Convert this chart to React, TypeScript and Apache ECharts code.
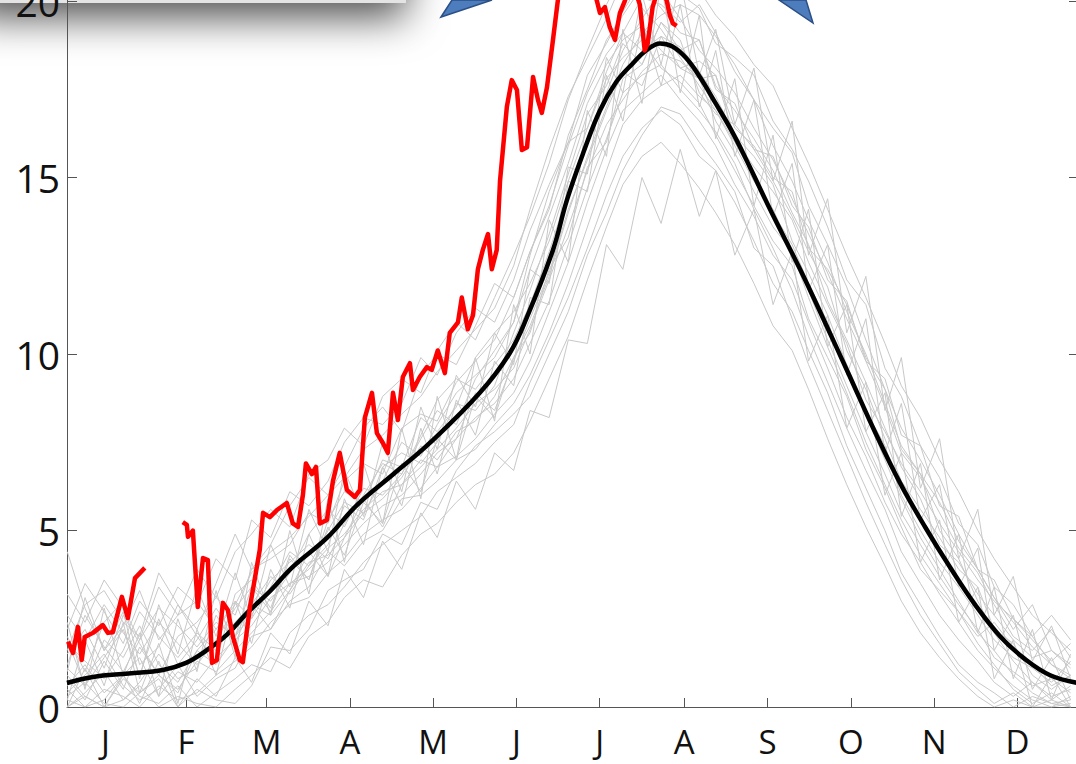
import React, { useEffect, useRef } from "react";
import * as echarts from "echarts";

// ---------- data ----------
const monthTicks = [15.5, 45, 74.5, 105, 135.5, 166, 196.5, 227.5, 258, 288.5, 319, 349.5];
const monthLabels = ["J", "F", "M", "A", "M", "J", "J", "A", "S", "O", "N", "D"];
const yTicks = [0, 5, 10, 15, 20];

// climatology (black)
const blackDays = [1.4, 10.9, 24, 36.5, 45, 52.6, 60, 67.3, 76, 84.1, 96.6, 107.6, 121, 134.3, 152.6, 163.6, 169.9, 179.4, 184.5, 190.5, 196.6, 202.5, 208.7, 213.5, 218.6, 223, 228, 233.2, 239, 245.3, 251.5, 258.9, 269.9, 279, 288.2, 297.3, 306.5, 315.7, 324.9, 334, 343.2, 352.4, 361.5, 371.7];
const blackValues = [0.68, 0.85, 0.95, 1.05, 1.25, 1.61, 2.05, 2.66, 3.3, 3.97, 4.79, 5.72, 6.6, 7.48, 8.9, 10.03, 11.05, 12.95, 14.36, 15.7, 16.9, 17.7, 18.24, 18.6, 18.8, 18.72, 18.4, 17.85, 17.1, 16.26, 15.3, 14.1, 12.4, 10.9, 9.35, 7.8, 6.35, 5.1, 3.95, 2.9, 2.0, 1.35, 0.9, 0.68];

// current year (red), two pieces
const redJanDays = [1.8, 3.6, 5.4, 6.8, 7.9, 10.9, 14.5, 16.4, 18.2, 21.5, 23.7, 26.3, 29.9];
const redJanValues = [1.85, 1.53, 2.27, 1.33, 1.98, 2.1, 2.32, 2.1, 2.12, 3.12, 2.52, 3.65, 3.94];

const redDays = [43.8, 45.3, 45.7, 47.5, 49.3, 51.2, 53.0, 54.5, 56.3, 58.5, 60.3, 62.2, 64.7, 65.8, 68.4, 72.0, 73.2, 75.7, 78.3, 81.9, 84.1, 86.0, 87.8, 88.9, 91.1, 92.6, 94.0, 96.6, 98.8, 101.3, 103.9, 106.8, 108.7, 110.5, 113.1, 114.9, 117.1, 118.9, 120.8, 122.6, 124.4, 127.0, 128.1, 130.6, 133.2, 135.0, 137.2, 139.8, 141.6, 144.6, 146.0, 148.2, 150.1, 151.9, 153.7, 155.6, 157.0, 158.8, 160.0, 162.5, 164.3, 166.2, 168.0, 169.9, 172.1, 173.9, 175.3, 177.2, 179.4, 181.2, 183.8, 187.4, 191.1, 194.0, 195.5, 196.6, 198.4, 200.2, 202.1, 203.9, 205.7, 208.3, 211.2, 213.0, 214.1, 215.9, 218.6, 221.1, 222.2, 223.3, 224.7];
const redValues = [5.24, 5.16, 4.82, 5.0, 2.83, 4.22, 4.16, 1.25, 1.33, 2.95, 2.75, 1.98, 1.33, 1.27, 2.83, 4.45, 5.5, 5.38, 5.58, 5.78, 5.2, 5.1, 6.0, 6.9, 6.6, 6.8, 5.2, 5.3, 6.4, 7.2, 6.15, 5.95, 6.15, 8.2, 8.9, 7.76, 7.48, 7.2, 8.9, 8.13, 9.35, 9.74, 8.98, 9.35, 9.63, 9.55, 10.1, 9.46, 10.6, 10.9, 11.6, 10.7, 11.1, 12.4, 12.95, 13.4, 12.4, 12.95, 14.9, 17.0, 17.76, 17.48, 15.78, 15.86, 17.85, 17.2, 16.83, 17.56, 18.9, 20.03, 21.2, 21.8, 21.0, 20.4, 20.0, 19.66, 19.83, 19.26, 18.9, 19.66, 20.0, 20.6, 19.9, 18.6, 18.8, 19.83, 20.5, 20.0, 19.6, 19.37, 19.3];

// past years (grey)
const greyDays = [1.5, 8, 15, 22, 28, 35, 42, 49, 56, 63, 69, 76, 83, 90, 97, 103, 110, 117, 124, 131, 137, 144, 151, 158, 165, 171, 178, 185, 192, 199, 205, 212, 219, 226, 233, 239, 246, 253, 260, 267, 273, 280, 287, 294, 301, 307, 314, 321, 328, 335, 341, 348, 355, 362, 369];
const grey01 = [1.5, 2.2, 1.1, 2.6, 1.8, 0.9, 2.0, 2.4, 3.1, 2.6, 3.9, 4.2, 4.6, 5.5, 5.2, 6.4, 6.9, 6.6, 7.9, 8.3, 8.1, 9.2, 9.8, 10.4, 11.6, 12.9, 14.1, 16.2, 17.5, 18.9, 19.6, 20.4, 19.8, 19.1, 18.9, 17.6, 16.9, 16.1, 15.2, 14.0, 13.1, 11.5, 10.4, 9.2, 7.9, 6.8, 5.9, 4.6, 4.1, 3.2, 2.6, 1.9, 1.4, 1.6, 1.1];
const grey02 = [0.2, 0.0, 0.5, 0.3, 0.0, 0.6, 0.2, 0.4, 0.9, 1.3, 1.7, 2.4, 2.9, 3.1, 3.8, 4.2, 4.9, 5.3, 5.6, 6.2, 6.8, 7.1, 7.6, 8.3, 8.9, 9.8, 11.2, 12.6, 14.3, 15.8, 16.9, 17.4, 17.9, 17.2, 16.6, 15.9, 14.8, 13.9, 12.8, 12.1, 10.9, 9.6, 8.2, 7.1, 5.8, 4.9, 4.1, 3.2, 2.4, 1.6, 1.1, 0.6, 0.2, 0.0, 0.3];
const grey03 = [1.1, 0.6, 1.9, 1.4, 2.3, 1.2, 0.7, 1.6, 2.2, 3.0, 2.5, 3.4, 4.4, 4.0, 4.6, 5.7, 5.3, 6.8, 7.2, 6.9, 7.5, 8.6, 8.4, 9.1, 10.6, 11.8, 13.4, 15.1, 16.8, 17.6, 18.8, 18.2, 19.4, 18.9, 17.4, 16.8, 16.5, 15.8, 14.9, 13.9, 12.9, 11.9, 10.1, 9.0, 7.6, 6.4, 5.6, 4.8, 3.9, 3.4, 2.2, 1.8, 0.9, 0.5, 0.9];
const grey04 = [2.6, 1.9, 2.9, 2.1, 1.5, 2.4, 1.8, 1.2, 1.9, 2.8, 3.4, 3.0, 3.8, 4.9, 5.6, 5.1, 6.2, 6.0, 6.6, 7.6, 8.4, 8.0, 9.3, 10.1, 10.9, 12.4, 13.9, 15.4, 17.1, 18.2, 18.9, 19.3, 18.6, 18.1, 18.3, 17.9, 16.1, 15.3, 14.6, 13.8, 12.6, 11.4, 10.3, 8.7, 7.8, 6.9, 6.1, 5.2, 4.4, 3.6, 3.0, 2.5, 1.9, 1.3, 1.8];
const grey05 = [0.6, 1.2, 0.4, 0.9, 1.4, 0.3, 1.0, 0.7, 1.4, 1.9, 2.3, 3.1, 3.5, 3.9, 4.5, 4.9, 5.6, 6.1, 6.3, 6.8, 7.3, 7.9, 8.6, 9.0, 9.6, 10.7, 12.1, 13.6, 15.2, 16.5, 17.2, 18.0, 18.5, 18.3, 17.8, 16.6, 15.7, 14.6, 13.6, 12.9, 11.8, 10.4, 9.1, 7.8, 6.6, 5.5, 4.6, 3.7, 2.9, 2.2, 1.4, 1.0, 0.6, 0.8, 0.4];
const grey06 = [1.8, 1.3, 0.8, 1.6, 2.7, 2.0, 1.4, 2.1, 1.6, 2.4, 2.9, 2.6, 3.3, 4.1, 4.3, 4.8, 5.5, 5.9, 6.5, 7.4, 7.0, 7.8, 8.1, 8.8, 9.9, 10.8, 12.2, 14.0, 15.6, 17.0, 18.2, 19.1, 19.6, 19.9, 19.6, 19.0, 18.2, 17.2, 15.9, 14.9, 13.8, 12.6, 11.2, 10.0, 8.6, 7.4, 6.6, 5.8, 4.7, 3.9, 3.1, 2.4, 1.7, 1.2, 0.8];
const grey07 = [0.0, 0.4, 1.0, 0.2, 0.7, 1.5, 0.8, 1.1, 2.6, 1.8, 2.9, 3.7, 3.2, 4.0, 5.0, 5.8, 5.5, 6.4, 7.5, 7.1, 8.0, 8.9, 9.4, 9.9, 10.9, 12.8, 14.6, 16.0, 16.4, 17.8, 18.4, 18.9, 18.1, 17.7, 17.1, 16.2, 15.2, 14.2, 13.2, 12.5, 11.0, 9.9, 8.8, 7.3, 6.2, 5.1, 3.9, 3.3, 2.7, 1.8, 1.2, 0.5, 0.1, 0.4, 0.0];
const grey08 = [1.2, 2.6, 1.7, 1.0, 1.9, 2.8, 2.3, 1.7, 2.4, 2.0, 2.6, 3.6, 4.1, 4.6, 4.2, 5.2, 6.0, 6.9, 6.6, 7.7, 8.7, 9.3, 9.0, 9.7, 10.4, 11.4, 12.9, 14.6, 16.1, 17.4, 18.6, 19.5, 20.3, 19.5, 18.6, 18.1, 17.4, 16.4, 15.5, 14.4, 13.4, 12.3, 11.0, 9.8, 8.5, 7.2, 6.5, 5.5, 4.5, 3.8, 2.9, 2.0, 1.6, 2.2, 1.4];
const grey09 = [0.9, 0.3, 0.0, 0.8, 0.4, 0.9, 0.5, 1.3, 1.0, 1.6, 2.1, 2.7, 3.5, 3.7, 4.1, 4.6, 5.2, 5.7, 6.0, 6.6, 7.2, 7.6, 8.2, 8.6, 9.3, 10.3, 11.5, 13.1, 14.7, 16.1, 17.4, 17.9, 18.2, 17.5, 16.9, 16.3, 15.4, 14.1, 13.0, 11.8, 10.5, 9.2, 7.9, 6.7, 5.6, 4.4, 3.5, 2.6, 1.9, 1.3, 0.7, 0.3, 0.7, 0.2, 0.6];
const grey10 = [2.0, 1.0, 2.4, 3.0, 1.2, 1.7, 2.9, 2.0, 1.3, 3.2, 3.6, 2.8, 4.3, 3.6, 5.3, 6.1, 5.8, 7.0, 6.8, 8.2, 7.8, 8.5, 9.9, 10.6, 11.2, 12.0, 13.2, 14.9, 16.4, 18.0, 19.1, 18.6, 19.0, 18.7, 18.0, 17.3, 16.2, 15.6, 14.8, 13.2, 12.3, 11.1, 9.7, 8.4, 7.4, 6.0, 5.0, 4.1, 3.4, 2.6, 1.9, 1.4, 1.1, 0.7, 1.3];
const grey11 = [0.4, 0.9, 1.5, 0.6, 0.2, 0.5, 1.2, 0.3, 0.8, 1.1, 2.0, 2.2, 3.0, 3.4, 4.4, 4.0, 4.7, 5.0, 5.9, 6.0, 6.4, 7.0, 7.3, 8.0, 8.6, 9.4, 10.6, 12.0, 13.6, 15.2, 16.5, 17.2, 17.6, 17.9, 17.3, 16.9, 16.0, 15.0, 14.0, 13.1, 12.0, 10.9, 9.5, 8.3, 7.0, 5.9, 4.8, 3.9, 3.0, 2.1, 1.6, 0.9, 0.4, 0.1, 0.2];
const grey12 = [4.4, 2.8, 1.6, 2.3, 3.3, 1.9, 2.6, 3.0, 2.2, 2.9, 3.8, 4.4, 4.8, 5.4, 6.0, 6.5, 7.3, 7.7, 8.3, 8.8, 9.5, 10.1, 10.7, 11.3, 12.5, 14.1, 15.8, 17.3, 18.4, 19.5, 20.6, 19.8, 19.2, 18.4, 17.6, 16.9, 15.9, 14.9, 14.1, 12.9, 11.6, 10.2, 8.9, 7.5, 6.3, 5.3, 4.3, 3.5, 2.7, 2.0, 2.4, 1.7, 1.2, 0.6, 0.9];
const grey13 = [3.2, 2.4, 3.6, 2.8, 1.9, 3.4, 2.6, 3.9, 3.1, 4.4, 4.9, 5.6, 5.1, 6.6, 7.0, 7.9, 7.4, 8.8, 9.3, 8.9, 10.1, 10.9, 10.4, 11.6, 12.8, 13.9, 15.4, 17.2, 18.6, 19.9, 20.8, 21.4, 20.6, 21.2, 20.3, 19.6, 19.0, 18.2, 17.6, 16.4, 15.4, 14.1, 12.8, 11.6, 10.3, 9.1, 8.2, 7.0, 6.1, 5.0, 4.2, 3.4, 2.6, 2.1, 1.6];
const grey14 = [2.2, 3.5, 2.7, 1.8, 3.0, 2.3, 3.4, 2.9, 4.2, 3.6, 5.3, 4.8, 6.1, 5.7, 6.4, 7.5, 8.2, 8.0, 8.6, 9.9, 9.4, 10.6, 11.3, 10.9, 12.1, 13.5, 14.8, 16.0, 17.9, 18.8, 19.7, 20.6, 21.3, 20.2, 19.8, 18.8, 18.4, 17.9, 16.6, 15.8, 14.9, 13.6, 12.1, 11.4, 9.6, 8.8, 7.4, 6.5, 5.2, 4.6, 3.4, 2.9, 2.0, 2.6, 1.9];
const grey15 = [1.6, 2.9, 3.3, 2.4, 2.0, 3.8, 2.9, 2.2, 3.5, 4.9, 3.9, 4.6, 5.7, 6.5, 6.0, 6.8, 7.9, 8.5, 7.8, 9.4, 10.0, 9.7, 10.8, 12.0, 11.6, 12.9, 14.2, 15.9, 17.4, 18.5, 19.1, 20.1, 19.9, 19.4, 19.9, 19.1, 18.0, 17.2, 16.4, 15.7, 14.2, 13.1, 11.9, 10.4, 9.0, 7.9, 7.0, 6.0, 4.9, 3.9, 3.1, 2.2, 2.9, 1.6, 1.2];
const grey16 = [0.0, 0.3, 0.0, 0.2, 0.6, 0.0, 0.3, 0.1, 0.0, 0.5, 0.9, 1.4, 1.1, 2.0, 2.4, 3.1, 3.6, 3.4, 4.3, 4.9, 5.2, 5.8, 6.3, 6.6, 7.2, 8.1, 9.3, 10.5, 12.1, 13.6, 14.8, 15.6, 16.0, 15.4, 14.7, 14.0, 13.1, 12.0, 10.8, 10.1, 9.0, 7.6, 6.3, 5.1, 4.0, 3.0, 2.1, 1.4, 0.8, 0.3, 0.0, 0.2, 0.0, 0.0, 0.1];
const grey17 = [0.5, 0.0, 0.2, 0.9, 0.3, 0.1, 0.6, 0.0, 0.4, 0.8, 1.2, 1.0, 2.1, 2.6, 2.9, 3.4, 4.1, 4.6, 5.0, 5.4, 6.1, 6.5, 6.9, 7.5, 8.0, 9.2, 10.4, 11.6, 13.0, 14.5, 15.6, 16.4, 16.9, 16.5, 15.6, 15.2, 14.3, 13.2, 12.0, 11.2, 10.1, 8.9, 7.4, 6.2, 5.0, 3.8, 2.9, 2.0, 1.2, 0.7, 0.4, 0.0, 0.3, 0.1, 0.0];
const grey18 = [0.3, 0.7, 0.1, 0.0, 0.4, 0.8, 0.0, 0.5, 0.2, 0.1, 0.6, 1.7, 1.6, 2.2, 3.3, 3.6, 3.9, 4.9, 4.6, 5.8, 5.6, 6.7, 7.4, 7.8, 8.3, 8.8, 10.0, 11.2, 12.8, 14.0, 15.2, 16.2, 17.0, 16.8, 16.0, 15.4, 14.6, 13.0, 12.5, 11.0, 9.7, 8.4, 7.1, 5.8, 4.6, 3.6, 2.6, 1.8, 1.0, 0.5, 0.1, 0.4, 0.0, 0.2, 0.0];
const grey19 = [2.4, 0.5, 2.8, 0.9, 2.1, 0.3, 2.5, 1.0, 3.3, 1.4, 4.1, 2.6, 5.0, 3.2, 5.9, 4.1, 6.9, 5.2, 7.9, 5.9, 8.8, 7.0, 9.9, 8.1, 11.4, 10.0, 13.8, 12.6, 16.9, 15.6, 19.2, 17.1, 20.5, 17.4, 19.6, 16.1, 17.8, 14.2, 16.2, 12.6, 14.1, 10.2, 11.4, 7.8, 8.9, 5.4, 6.9, 3.6, 4.9, 2.1, 3.4, 0.8, 2.2, 0.2, 1.5];
const grey20 = [0.2, 1.9, 0.6, 2.4, 0.4, 1.8, 0.1, 2.2, 0.9, 3.0, 1.8, 3.9, 2.8, 4.9, 3.7, 5.9, 4.6, 6.8, 5.7, 7.9, 6.6, 8.7, 7.7, 9.8, 9.1, 11.6, 11.4, 14.9, 14.6, 17.9, 16.6, 19.4, 17.6, 19.9, 17.0, 18.6, 15.6, 17.2, 13.9, 15.4, 11.8, 13.1, 9.4, 11.0, 7.2, 8.6, 5.3, 6.3, 3.4, 4.5, 1.6, 2.6, 0.5, 1.4, 0.2];
const grey21 = [1.0, 3.1, 1.6, 2.7, 0.8, 2.9, 1.5, 3.4, 2.0, 3.8, 2.5, 4.6, 3.4, 5.6, 4.4, 6.7, 5.4, 7.5, 6.1, 8.5, 7.3, 9.4, 8.5, 10.6, 9.7, 12.4, 12.0, 15.3, 15.1, 18.4, 17.4, 20.2, 18.2, 20.6, 17.9, 19.2, 16.5, 18.1, 14.9, 16.6, 12.8, 14.4, 10.6, 12.2, 8.4, 9.9, 6.2, 7.6, 4.2, 5.6, 2.6, 3.7, 1.3, 2.3, 0.8];
const grey22 = [0.0, 1.1, 0.0, 0.9, 0.1, 1.3, 0.0, 0.8, 0.3, 1.4, 0.7, 2.1, 1.5, 3.0, 2.3, 3.9, 3.1, 4.7, 3.9, 5.5, 4.8, 6.4, 5.6, 7.2, 6.7, 8.4, 8.2, 10.4, 10.3, 13.1, 12.4, 15.0, 13.7, 15.8, 13.9, 15.2, 12.8, 14.1, 11.4, 12.9, 9.8, 11.1, 7.9, 9.2, 6.0, 7.2, 4.1, 5.3, 2.4, 3.4, 0.8, 1.9, 0.0, 0.9, 0.0];
const grey23 = [1.9, 0.6, 1.4, 2.2, 0.9, 2.5, 1.2, 1.9, 2.8, 2.0, 3.4, 2.7, 4.2, 3.6, 5.1, 4.3, 5.8, 5.2, 6.9, 6.1, 7.6, 7.0, 8.8, 8.2, 9.9, 10.6, 12.4, 13.3, 15.3, 16.0, 17.8, 18.2, 19.4, 18.6, 18.9, 17.5, 17.1, 15.8, 15.6, 14.2, 13.6, 12.1, 11.5, 9.8, 9.3, 7.7, 7.4, 5.7, 5.4, 3.9, 3.6, 2.5, 2.0, 1.2, 0.9];
const grey24 = [0.8, 0.2, 1.3, 0.5, 1.7, 0.9, 0.4, 1.6, 1.2, 2.0, 2.9, 2.2, 3.3, 4.4, 3.7, 4.8, 5.9, 5.1, 6.3, 7.0, 6.8, 7.6, 8.9, 8.4, 9.8, 11.0, 12.3, 14.1, 15.5, 16.9, 18.0, 17.6, 19.0, 18.1, 17.8, 17.9, 16.4, 15.9, 15.0, 14.6, 13.0, 12.4, 11.4, 9.9, 9.0, 7.3, 6.6, 5.0, 4.2, 3.0, 2.1, 1.3, 0.7, 0.3, 0.5];
const greyYears = [grey01, grey02, grey03, grey04, grey05, grey06, grey07, grey08, grey09, grey10, grey11, grey12, grey13, grey14, grey15, grey16, grey17, grey18, grey19, grey20, grey21, grey22, grey23, grey24];

const zip = (xs: number[], ys: number[]) => xs.map((x, i) => [x, ys[i]]);

export default function App() {
  const ref = useRef<HTMLDivElement>(null);
  useEffect(() => {
    if (!ref.current) return;
    const chart = echarts.init(ref.current, null, { renderer: "svg" });
    const font = "'Open Sans', 'Noto Sans', sans-serif";
    const greySeries = greyYears.map((vals) => ({
      type: "line",
      data: zip(greyDays, vals),
      showSymbol: false,
      symbol: "none",
      silent: true,
      z: 1,
      lineStyle: { color: "#c8c8c8", width: 1 },
    }));
    const option: any = {
      animation: false,
      backgroundColor: "#ffffff",
      grid: { left: 67, right: -2, top: 0, bottom: 57, containLabel: false, outerBoundsMode: "none" },
      xAxis: {
        type: "value",
        min: 1.4,
        max: 371.7,
        axisLine: { show: true, lineStyle: { color: "#555555", width: 1 } },
        axisTick: {
          show: true,
          inside: true,
          length: 9,
          customValues: monthTicks,
          lineStyle: { color: "#555555" },
        },
        axisLabel: {
          customValues: monthTicks,
          formatter: (v: number) => {
            let best = 0;
            monthTicks.forEach((t, i) => {
              if (Math.abs(t - v) < Math.abs(monthTicks[best] - v)) best = i;
            });
            return monthLabels[best];
          },
          fontSize: 33,
          fontFamily: font,
          color: "#111111",
          margin: 18,
        },
        splitLine: { show: false },
      },
      yAxis: [
        {
          type: "value",
          min: 0,
          max: 20.03,
          position: "left",
          axisLine: { show: true, lineStyle: { color: "#555555", width: 1 } },
          axisTick: { show: true, inside: true, length: 10, customValues: yTicks, lineStyle: { color: "#555555" } },
          axisLabel: {
            customValues: yTicks,
            fontSize: 39,
            fontFamily: font,
            color: "#111111",
            margin: 7,
          },
          splitLine: { show: false },
        },
        {
          type: "value",
          min: 0,
          max: 20.03,
          position: "right",
          axisLine: { show: true, lineStyle: { color: "#555555", width: 1 } },
          axisTick: { show: true, inside: true, length: 9, customValues: yTicks, lineStyle: { color: "#555555" } },
          axisLabel: { show: false },
          splitLine: { show: false },
        },
      ],
      graphic: [
        {
          type: "rect",
          z: -1,
          shape: { x: -30, y: -80, width: 436, height: 83 },
          style: {
            fill: "#e4e4e4",
            shadowBlur: 40,
            shadowOffsetY: 14,
            shadowColor: "rgba(0,0,0,0.7)",
          },
        },
        {
          type: "polygon",
          z: 100,
          shape: { points: [[441, 17], [452, 0], [492, 0]] },
          style: { fill: "#4d7dbd", stroke: "#2c4f86", lineWidth: 1.5 },
        },
        {
          type: "polygon",
          z: 100,
          shape: { points: [[779, 0], [806, 0], [813, 23]] },
          style: { fill: "#4d7dbd", stroke: "#2c4f86", lineWidth: 1.5 },
        },
      ],
      series: [
        ...greySeries,
        {
          type: "line",
          data: zip(blackDays, blackValues),
          smooth: 0.4,
          showSymbol: false,
          symbol: "none",
          z: 3,
          lineStyle: { color: "#000000", width: 4.5 },
        },
        {
          type: "line",
          data: zip(redJanDays, redJanValues),
          showSymbol: false,
          symbol: "none",
          z: 4,
          lineStyle: { color: "#ff0000", width: 4.5, join: "round" },
        },
        {
          type: "line",
          data: zip(redDays, redValues),
          showSymbol: false,
          symbol: "none",
          z: 4,
          lineStyle: { color: "#ff0000", width: 4.5, join: "round" },
        },
      ],
    };
    chart.setOption(option);
    return () => chart.dispose();
  }, []);
  return (
    <div
      ref={ref}
      style={{ position: "fixed", left: 0, top: 0, width: 1076, height: 764, background: "#fff" }}
    />
  );
}
